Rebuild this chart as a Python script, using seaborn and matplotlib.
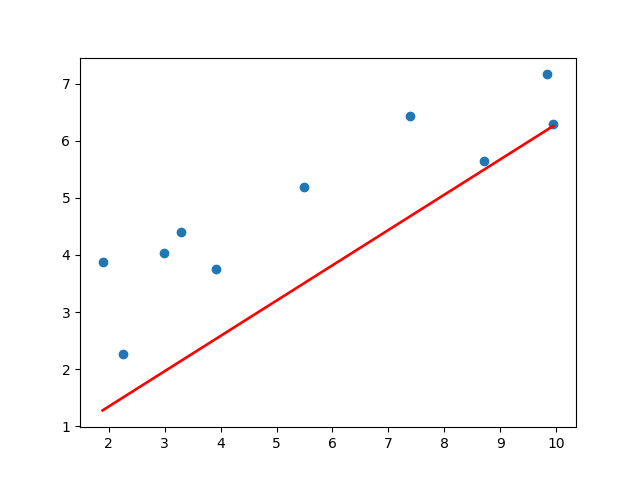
import matplotlib
matplotlib.use("Agg")
import matplotlib.pyplot as plt
import seaborn as sns

# observed points
x_vals = [1.89, 2.25, 2.98, 3.29, 3.91, 5.49, 7.38, 8.71, 9.84, 9.95]
y_vals = [3.88, 2.26, 4.03, 4.40, 3.75, 5.19, 6.44, 5.65, 7.16, 6.30]

# red line end points
line_x = [1.89, 9.95]
line_y = [1.28, 6.26]

fig, ax = plt.subplots(figsize=(6.4, 4.8), dpi=100)
sns.scatterplot(x=x_vals, y=y_vals, ax=ax, s=36, color="#1f77b4",
                edgecolor="face", linewidth=1.0)
sns.lineplot(x=line_x, y=line_y, ax=ax, color="red", linewidth=1.9)
plt.savefig("out.png")
